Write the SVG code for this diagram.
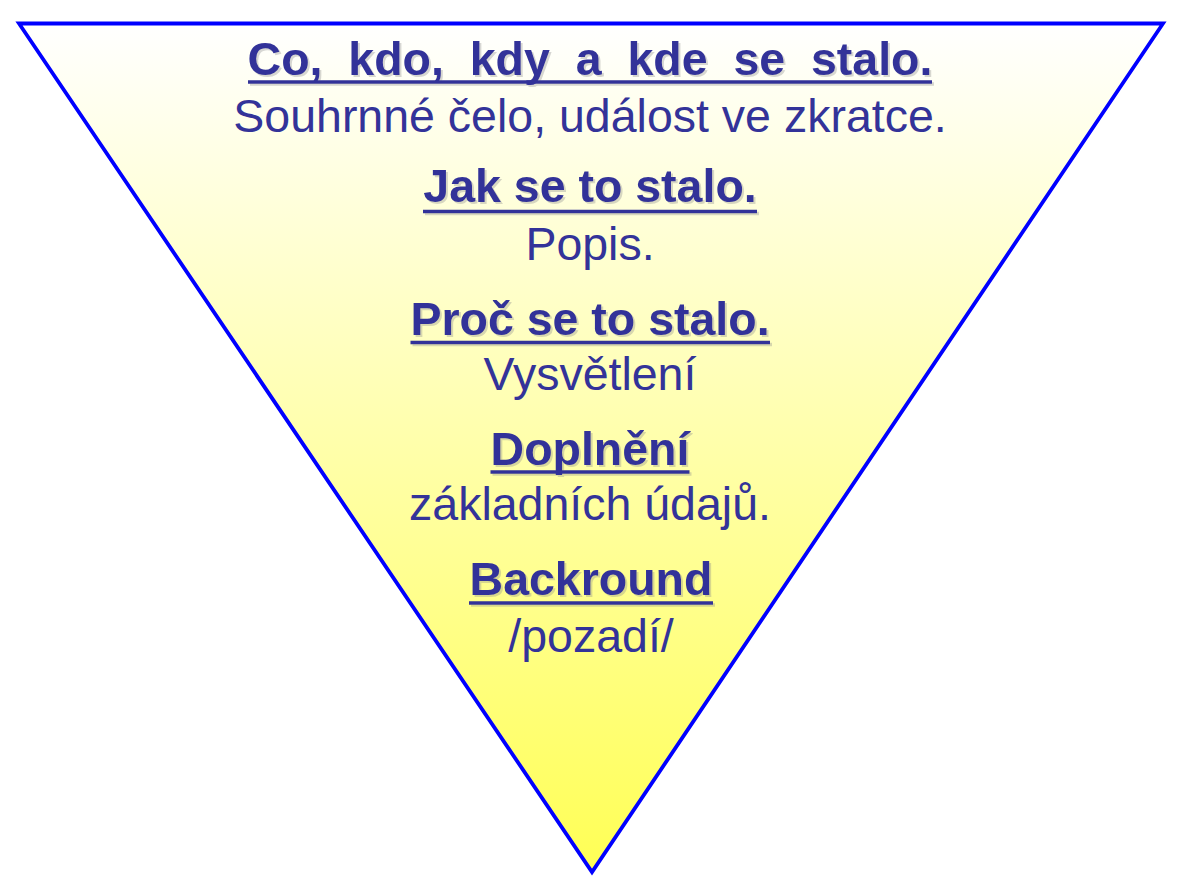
<svg xmlns="http://www.w3.org/2000/svg" width="1178" height="888" viewBox="0 0 1178 888">
  <defs>
    <linearGradient id="fillGrad" x1="0" y1="23" x2="0" y2="872" gradientUnits="userSpaceOnUse">
      <stop offset="0" stop-color="#FFFFFF"/>
      <stop offset="1" stop-color="#FFFF55"/>
    </linearGradient>
    <filter id="shadow" x="-5%" y="-20%" width="110%" height="140%">
      <feDropShadow dx="2" dy="2" stdDeviation="0.4" flood-color="#8a8a8a" flood-opacity="0.35"/>
    </filter>
    <style>
      text { font-family: "Liberation Sans", Arial, sans-serif; font-size: 46.5px; fill: #333399; text-anchor: middle; white-space: pre; }
      .b { font-weight: bold; }
      .ul { stroke: #333399; stroke-width: 3.5; }
      .hd { filter: url(#shadow); }
    </style>
  </defs>
  <rect width="1178" height="888" fill="#FFFFFF"/>
  <g id="triangle">
    <polygon points="19,23.5 1163,23.5 592,872" fill="url(#fillGrad)" stroke="#0000FF" stroke-width="3.8" stroke-linejoin="miter"/>
  </g>
  <g id="block1">
    <g class="hd">
      <text class="b" x="590" y="75" xml:space="preserve">Co,  kdo,  kdy  a  kde  se  stalo.</text>
      <line class="ul" x1="248" y1="82" x2="932" y2="82"/>
    </g>
    <text x="590" y="131.5">Souhrnné čelo, událost ve zkratce.</text>
  </g>
  <g id="block2">
    <g class="hd">
      <text class="b" x="590" y="201.5">Jak se to stalo.</text>
      <line class="ul" x1="423" y1="211.5" x2="757" y2="211.5"/>
    </g>
    <text x="590" y="260">Popis.</text>
  </g>
  <g id="block3">
    <g class="hd">
      <text class="b" x="590" y="335">Proč se to stalo.</text>
      <line class="ul" x1="410.5" y1="342.5" x2="770" y2="342.5"/>
    </g>
    <text x="590" y="390">Vysvětlení</text>
  </g>
  <g id="block4">
    <g class="hd">
      <text class="b" x="590" y="465">Doplnění</text>
      <line class="ul" x1="490.5" y1="472" x2="689.5" y2="472"/>
    </g>
    <text x="590" y="520">základních údajů.</text>
  </g>
  <g id="block5">
    <g class="hd">
      <text class="b" x="591" y="595">Backround</text>
      <line class="ul" x1="469" y1="603" x2="713" y2="603"/>
    </g>
    <text x="591" y="652">/pozadí/</text>
  </g>
</svg>
